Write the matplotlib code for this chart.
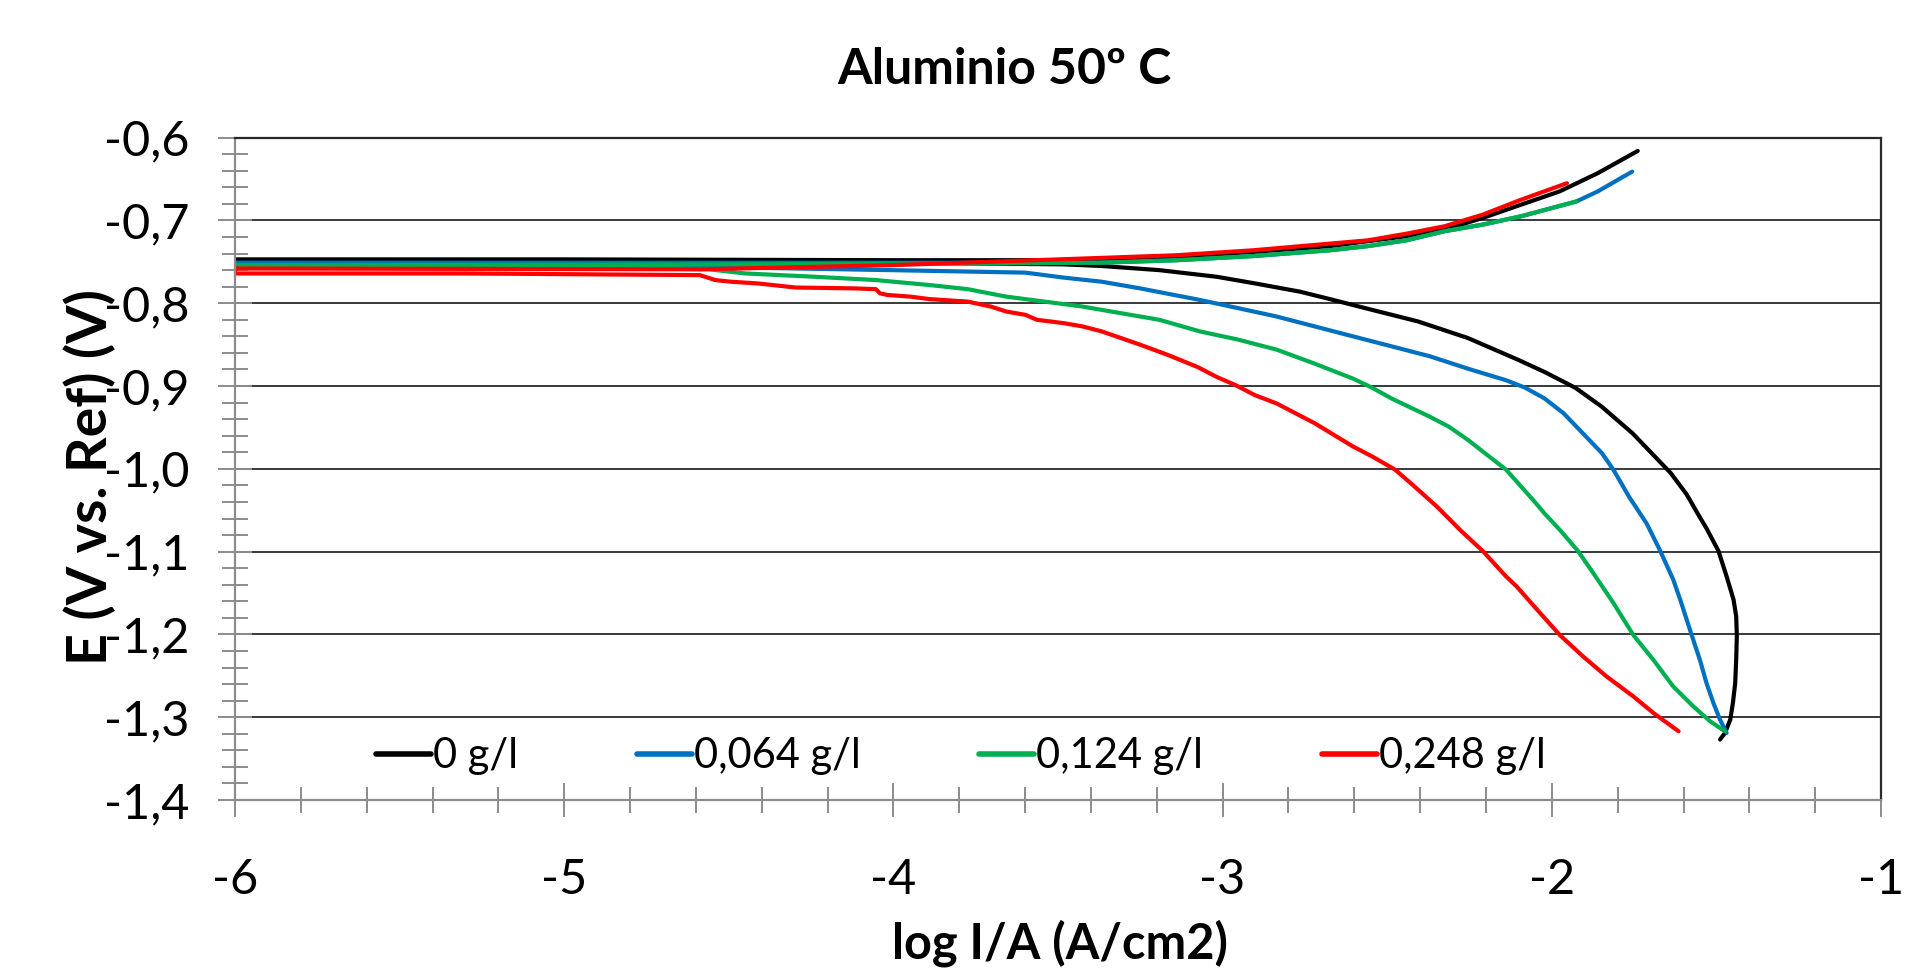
import numpy as np
import matplotlib
matplotlib.use("Agg")
import matplotlib.pyplot as plt
from matplotlib.ticker import MultipleLocator, FuncFormatter

plt.rcParams['font.family'] = ['Lato', 'DejaVu Sans']

# log I/A and E: cathodic branch (from its end up to -6), then anodic branch
x_0 = [-1.489, -1.474, -1.458, -1.450, -1.443, -1.440, -1.438, -1.440, -1.448, -1.469, -1.494,
       -1.530, -1.557, -1.580, -1.592, -1.639, -1.697, -1.755, -1.848, -1.929, -2.022, -2.104,
       -2.255, -2.406, -2.546, -2.674, -2.765, -2.902, -3.018, -3.192, -3.367, -3.483, -4.000,
       -5.000, -6.000,
       -6.000, -5.000, -4.000, -3.400, -3.140, -2.907, -2.675, -2.442, -2.326, -2.210, -2.094,
       -1.977, -1.861, -1.739]
y_0 = [-1.327, -1.319, -1.303, -1.283, -1.259, -1.231, -1.201, -1.178, -1.158, -1.130, -1.099,
       -1.072, -1.054, -1.038, -1.030, -1.005, -0.981, -0.957, -0.925, -0.902, -0.883, -0.868,
       -0.842, -0.822, -0.808, -0.795, -0.786, -0.776, -0.768, -0.760, -0.755, -0.753, -0.751,
       -0.750, -0.750,
       -0.747, -0.747, -0.748, -0.748, -0.744, -0.738, -0.731, -0.719, -0.711, -0.697, -0.681,
       -0.665, -0.643, -0.616]

x_064 = [-1.469, -1.489, -1.509, -1.530, -1.550, -1.575, -1.610, -1.631, -1.672, -1.712, -1.765,
         -1.813, -1.848, -1.906, -1.964, -2.022, -2.081, -2.139, -2.255, -2.371, -2.487, -2.604,
         -2.720, -2.836, -2.952, -3.069, -3.251, -3.367, -3.483, -3.599, -4.006, -4.588, -5.300,
         -6.000,
         -6.000, -4.500, -3.800, -3.372, -3.140, -2.907, -2.675, -2.559, -2.442, -2.326, -2.210,
         -2.094, -1.925, -1.861, -1.756]
y_064 = [-1.319, -1.303, -1.283, -1.259, -1.231, -1.201, -1.158, -1.134, -1.098, -1.066, -1.034,
         -1.001, -0.981, -0.957, -0.933, -0.915, -0.902, -0.893, -0.879, -0.864, -0.852, -0.840,
         -0.828, -0.816, -0.806, -0.796, -0.782, -0.774, -0.769, -0.763, -0.760, -0.756, -0.753,
         -0.752,
         -0.751, -0.751, -0.751, -0.751, -0.748, -0.743, -0.736, -0.731, -0.724, -0.713, -0.705,
         -0.695, -0.677, -0.665, -0.641]

x_124 = [-1.474, -1.519, -1.570, -1.631, -1.691, -1.752, -1.813, -1.874, -1.921, -1.975, -2.022,
         -2.056, -2.139, -2.197, -2.255, -2.313, -2.371, -2.487, -2.546, -2.604, -2.720, -2.836,
         -2.952, -3.069, -3.192, -3.309, -3.425, -3.541, -3.657, -3.774, -3.890, -4.053, -4.239,
         -4.450, -4.560, -5.000, -6.000,
         -6.000, -4.500, -3.800, -3.372, -3.140, -2.907, -2.675, -2.559, -2.442, -2.326, -2.210,
         -2.094, -1.925]
y_124 = [-1.317, -1.305, -1.287, -1.263, -1.231, -1.201, -1.162, -1.126, -1.099, -1.074, -1.054,
         -1.038, -1.001, -0.983, -0.965, -0.949, -0.937, -0.915, -0.902, -0.891, -0.873, -0.856,
         -0.844, -0.834, -0.820, -0.812, -0.804, -0.798, -0.792, -0.783, -0.778, -0.772, -0.768,
         -0.764, -0.759, -0.756, -0.755,
         -0.754, -0.753, -0.752, -0.751, -0.748, -0.743, -0.736, -0.731, -0.724, -0.713, -0.705,
         -0.695, -0.677]

x_248 = [-1.615, -1.691, -1.752, -1.833, -1.904, -1.975, -2.036, -2.107, -2.139, -2.208, -2.278,
         -2.348, -2.418, -2.476, -2.546, -2.604, -2.720, -2.836, -2.902, -2.960, -3.018, -3.076,
         -3.169, -3.251, -3.309, -3.367, -3.425, -3.483, -3.564, -3.599, -3.657, -3.704, -3.774,
         -3.890, -3.948, -4.018, -4.041, -4.053, -4.122, -4.297, -4.413, -4.494, -4.541, -4.588,
         -5.300, -6.000,
         -6.000, -4.588, -4.006, -3.425, -3.140, -2.907, -2.675, -2.559, -2.442, -2.326, -2.210,
         -2.094, -1.954]
y_248 = [-1.317, -1.295, -1.275, -1.251, -1.227, -1.201, -1.174, -1.142, -1.130, -1.100, -1.074,
         -1.046, -1.021, -1.001, -0.985, -0.973, -0.945, -0.921, -0.911, -0.899, -0.889, -0.877,
         -0.862, -0.850, -0.842, -0.834, -0.828, -0.824, -0.820, -0.814, -0.810, -0.804, -0.798,
         -0.795, -0.792, -0.790, -0.788, -0.783, -0.782, -0.781, -0.776, -0.774, -0.772, -0.766,
         -0.764, -0.764,
         -0.758, -0.759, -0.754, -0.746, -0.742, -0.736, -0.728, -0.724, -0.716, -0.707, -0.693,
         -0.675, -0.655]

series = [(x_0, y_0, '0 g/l', '#000000'),
          (x_064, y_064, '0,064 g/l', '#0070C0'),
          (x_124, y_124, '0,124 g/l', '#00B050'),
          (x_248, y_248, '0,248 g/l', '#FF0000')]

fig = plt.figure(figsize=(19.2, 9.73), dpi=100)
ax = fig.add_axes([0.1224, 0.1778, 0.8573, 0.6807])

for xs, ys, lab, col in series:
    ax.plot(xs, ys, color=col, lw=3.0, label=lab, solid_capstyle='round', solid_joinstyle='round')

ax.set_xlim(-6, -1)
ax.set_ylim(-1.4, -0.6)
ax.xaxis.set_major_locator(MultipleLocator(1))
ax.xaxis.set_minor_locator(MultipleLocator(0.2))
ax.yaxis.set_major_locator(MultipleLocator(0.1))
ax.yaxis.set_minor_locator(MultipleLocator(0.02))
ax.xaxis.set_major_formatter(FuncFormatter(lambda v, p: f"{v:.0f}"))
ax.yaxis.set_major_formatter(FuncFormatter(lambda v, p: f"{v:.1f}".replace('.', ',')))

ax.yaxis.grid(True, which='major', color='#2a2a2a', lw=1.3)
ax.set_axisbelow(True)

grey = '#8c8c8c'
ax.tick_params(which='major', direction='inout', length=25, width=1.4, color=grey, labelsize=35)
ax.tick_params(which='minor', direction='inout', length=19, width=1.4, color=grey)
ax.tick_params(axis='x', which='major', pad=29)
ax.tick_params(axis='y', which='major', pad=20)
for s in ['left', 'bottom']:
    ax.spines[s].set_color(grey)
    ax.spines[s].set_linewidth(1.6)
for s in ['top', 'right']:
    ax.spines[s].set_color('#2a2a2a')
    ax.spines[s].set_linewidth(1.6)

leg = ax.legend(loc='center', bbox_to_anchor=(0.441, 0.066), ncol=4, frameon=False,
                fontsize=30, handlelength=1.32, handletextpad=0.05, columnspacing=2.85)
for h in leg.get_lines():
    h.set_linewidth(4)

fig.text(0.523, 0.929, 'Aluminio 50º C', ha='center', va='center', fontsize=36, fontweight='bold')
fig.text(0.552, 0.031, 'log I/A (A/cm2)', ha='center', va='center', fontsize=35, fontweight='bold')
fig.text(0.047, 1 - 477 / 973, 'E (V vs. Ref) (V)', ha='center', va='center', rotation=90,
         fontsize=40, fontweight='bold')

fig.savefig('out.png', dpi=100)
